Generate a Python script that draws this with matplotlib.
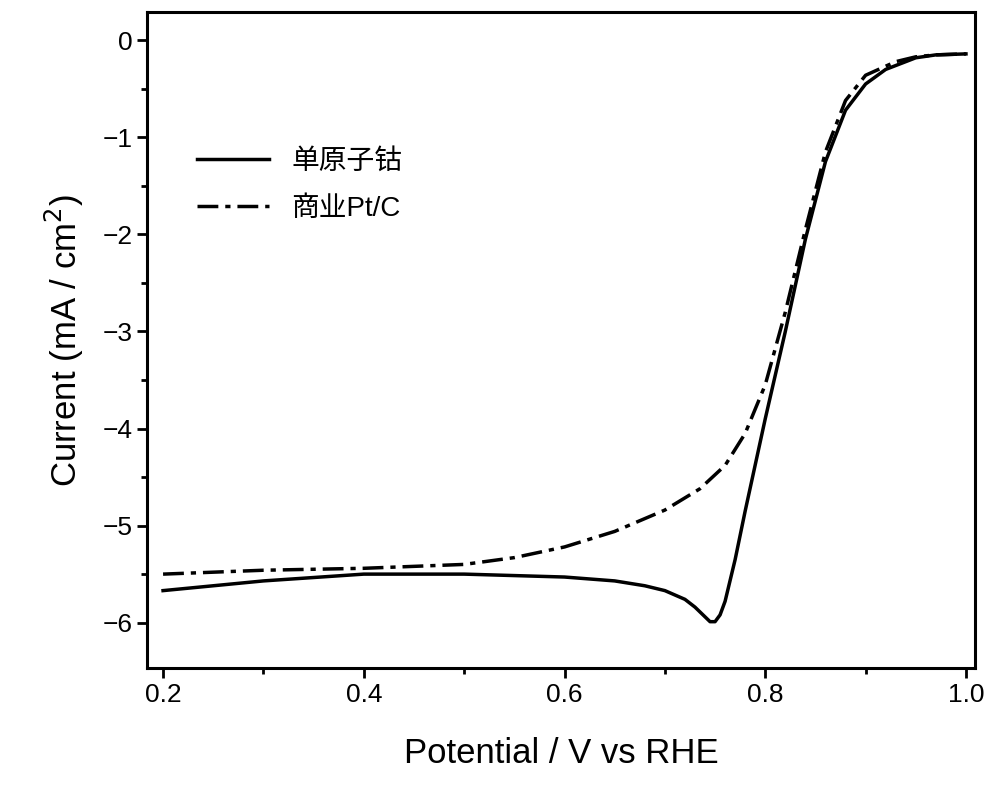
import numpy as np
import matplotlib
matplotlib.use("Agg")
import matplotlib.pyplot as plt
from matplotlib.ticker import MultipleLocator

plt.rcParams["font.family"] = ["Liberation Sans", "Noto Sans CJK SC", "Noto Sans CJK JP",
                               "Noto Sans CJK TC", "Noto Sans CJK KR"]

# 单原子钴
co_v = [0.2, 0.3, 0.4, 0.5, 0.6, 0.65, 0.68, 0.7, 0.72, 0.73, 0.74, 0.745, 0.75, 0.755,
        0.76, 0.77, 0.78, 0.8, 0.82, 0.84, 0.86, 0.88, 0.9, 0.92, 0.95, 0.97, 1.0]
co_j = [-5.67, -5.57, -5.50, -5.50, -5.53, -5.57, -5.62, -5.67, -5.76, -5.84, -5.94, -5.99,
        -5.99, -5.92, -5.78, -5.35, -4.85, -3.90, -3.00, -2.05, -1.25, -0.72, -0.45,
        -0.30, -0.18, -0.15, -0.14]
# 商业Pt/C
pt_v = [0.2, 0.3, 0.4, 0.5, 0.55, 0.6, 0.65, 0.7, 0.735, 0.76, 0.78, 0.8, 0.82, 0.84,
        0.86, 0.88, 0.9, 0.93, 0.95, 0.97, 1.0]
pt_j = [-5.50, -5.46, -5.44, -5.40, -5.33, -5.22, -5.06, -4.84, -4.62, -4.38, -4.05, -3.55,
        -2.80, -1.95, -1.15, -0.62, -0.36, -0.22, -0.17, -0.15, -0.14]

fig = plt.figure(figsize=(10, 8.11), dpi=100)
ax = fig.add_axes([0.147, 0.176, 0.828, 0.809])

ax.plot(co_v, co_j, color="black", lw=2.5, label="单原子钴")
ax.plot(pt_v, pt_j, color="black", lw=2.5, linestyle=(0, (6, 2, 1.5, 2)), label="商业Pt/C")

ax.set_xlim(0.184, 1.009)
ax.set_ylim(-6.47, 0.29)
ax.xaxis.set_major_locator(MultipleLocator(0.2))
ax.xaxis.set_minor_locator(MultipleLocator(0.1))
ax.yaxis.set_major_locator(MultipleLocator(1))
ax.yaxis.set_minor_locator(MultipleLocator(0.5))
ax.tick_params(which="both", direction="out", width=2, labelsize=19)
ax.tick_params(which="major", length=7)
ax.tick_params(which="minor", length=4)
for s in ax.spines.values():
    s.set_linewidth(2.2)

ax.set_xlabel("Potential / V vs RHE", fontsize=25, labelpad=22)
ax.set_ylabel("Current (mA / cm$^2$)", fontsize=25, labelpad=12)
ax.legend(loc="upper left", bbox_to_anchor=(0.03, 0.83), frameon=False,
          fontsize=20, handlelength=2.6, labelspacing=0.75)

fig.savefig("out.png")
